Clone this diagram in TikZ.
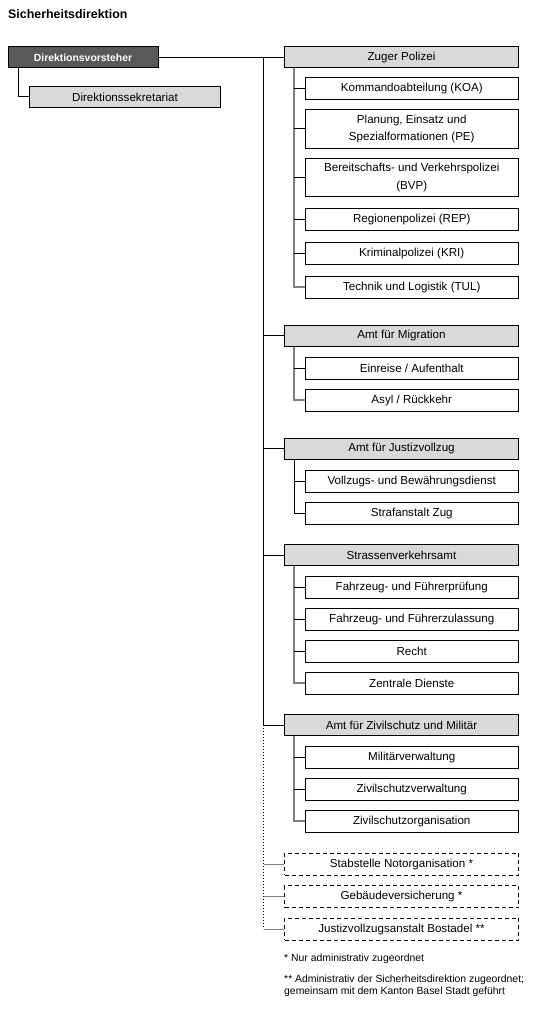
\documentclass[tikz,border=0pt]{standalone}
\usepackage{fontspec}
\setmainfont{Liberation Sans}
\usetikzlibrary{positioning}

\definecolor{headGray}{HTML}{595959}
\definecolor{boxGray}{HTML}{D9D9D9}
\definecolor{lineGray}{HTML}{808080}

\begin{document}
\begin{tikzpicture}[
    x=1pt, y=-1pt,
    unitBox/.style={draw, line width=1pt, inner sep=0pt, align=center,
      font=\fontsize{11.6}{17.5}\selectfont},
    headNode/.style={unitBox, fill=headGray, text=white, minimum width=150, minimum height=21,
      font=\fontsize{10.4}{12}\selectfont\bfseries},
    amtNode/.style={unitBox, fill=boxGray, minimum width=234, minimum height=21},
    subNode/.style={unitBox, minimum width=213.5, minimum height=22},
    tallNode/.style={subNode, minimum height=38.5},
    extNode/.style={unitBox, dash pattern=on 4pt off 3pt, minimum width=234, minimum height=22},
    trunkLine/.style={line width=1pt},
    branchLine/.style={line width=1.6pt, lineGray},
    tickLine/.style={line width=1pt},
    noteText/.style={anchor=west, inner sep=0pt, align=left,
      font=\fontsize{10.4}{12}\selectfont}
  ]
  \useasboundingbox (0,0) rectangle (541,1011);

  % Title and head
  \node[anchor=west, inner sep=0pt, font=\fontsize{12.4}{14}\selectfont\bfseries] (title) at (8,14) {Sicherheitsdirektion};
  \node[headNode] (vorst) at (83,57.5) {Direktionsvorsteher};
  \node[amtNode, minimum width=191, minimum height=21.5] (sekr) at (125,97) {Direktionssekretariat};

  % Zuger Polizei
  \node[amtNode] (zug) at (401.5,57.5) {Zuger Polizei};
  \node[subNode] (koa) at (411.75,89) {Kommandoabteilung (KOA)};
  \node[tallNode] (pe) at (411.75,129) {Planung, Einsatz und\\Spezialformationen (PE)};
  \node[tallNode] (bvp) at (411.75,177.5) {Bereitschafts- und Verkehrspolizei\\(BVP)};
  \node[subNode] (rep) at (411.75,219.5) {Regionenpolizei (REP)};
  \node[subNode] (kri) at (411.75,253) {Kriminalpolizei (KRI)};
  \node[subNode] (tul) at (411.75,287) {Technik und Logistik (TUL)};

  % Amt fuer Migration
  \node[amtNode] (mig) at (401.5,335.5) {Amt für Migration};
  \node[subNode] (ein) at (411.75,368) {Einreise / Aufenthalt};
  \node[subNode] (asyl) at (411.75,400) {Asyl / Rückkehr};

  % Amt fuer Justizvollzug
  \node[amtNode] (jus) at (401.5,448.5) {Amt für Justizvollzug};
  \node[subNode] (vbd) at (411.75,481) {Vollzugs- und Bewährungsdienst};
  \node[subNode] (straf) at (411.75,513) {Strafanstalt Zug};

  % Strassenverkehrsamt
  \node[amtNode] (sva) at (401.5,555) {Strassenverkehrsamt};
  \node[subNode] (fpr) at (411.75,587) {Fahrzeug- und Führerprüfung};
  \node[subNode] (fzu) at (411.75,619) {Fahrzeug- und Führerzulassung};
  \node[subNode] (recht) at (411.75,651) {Recht};
  \node[subNode] (zd) at (411.75,683) {Zentrale Dienste};

  % Amt fuer Zivilschutz und Militaer
  \node[amtNode] (ziv) at (401.5,725) {Amt für Zivilschutz und Militär};
  \node[subNode] (mil) at (411.75,757) {Militärverwaltung};
  \node[subNode] (zsv) at (411.75,789) {Zivilschutzverwaltung};
  \node[subNode] (zso) at (411.75,821) {Zivilschutzorganisation};

  % administrativ zugeordnet
  \node[extNode] (stab) at (401.5,864) {Stabstelle Notorganisation *};
  \node[extNode] (gvz) at (401.5,896.5) {Gebäudeversicherung *};
  \node[extNode] (jva) at (401.5,929) {Justizvollzugsanstalt Bostadel **};

  % Footnotes
  \node[noteText] (note1) at (284,959) {* Nur administrativ zugeordnet};
  \node[noteText] (note2) at (284,985.5) {** Administrativ der Sicherheitsdirektion zugeordnet;\\gemeinsam mit dem Kanton Basel Stadt geführt};

  % Connectors
  \coordinate (trunk) at (263.5,57.5);
  \draw[tickLine] ([xshift=11pt]vorst.south west) |- (sekr.west);
  \draw[trunkLine] (vorst.east) -- (zug.west);
  \draw[trunkLine] (trunk) -- (trunk |- ziv.west);
  \foreach \amt in {mig, jus, sva, ziv}
    \draw[trunkLine] (trunk |- \amt.west) -- (\amt.west);
  \draw[trunkLine, dotted] (trunk |- ziv.west) -- (trunk |- jva.west);
  \foreach \ext in {stab, gvz, jva}
    \draw[tickLine, lineGray] (trunk |- \ext.west) -- (\ext.west);

  \foreach \amt/\last/\col/\lw in {zug/tul/lineGray/1.6pt, mig/asyl/lineGray/1.6pt, jus/straf/black/1pt, sva/zd/lineGray/1.6pt, ziv/zso/lineGray/1.6pt}
    \draw[branchLine, draw=\col, line width=\lw] ([xshift=10pt]\amt.south west) -- ([xshift=10pt]\amt.south west |- \last.west) -- (\last.west);
  \foreach \amt/\sub in {zug/koa, zug/pe, zug/bvp, zug/rep, zug/kri, mig/ein, jus/vbd, sva/fpr, sva/fzu, sva/recht, ziv/mil, ziv/zsv}
    \draw[tickLine] ([xshift=10pt]\amt.south west |- \sub.west) -- (\sub.west);
\end{tikzpicture}
\end{document}
